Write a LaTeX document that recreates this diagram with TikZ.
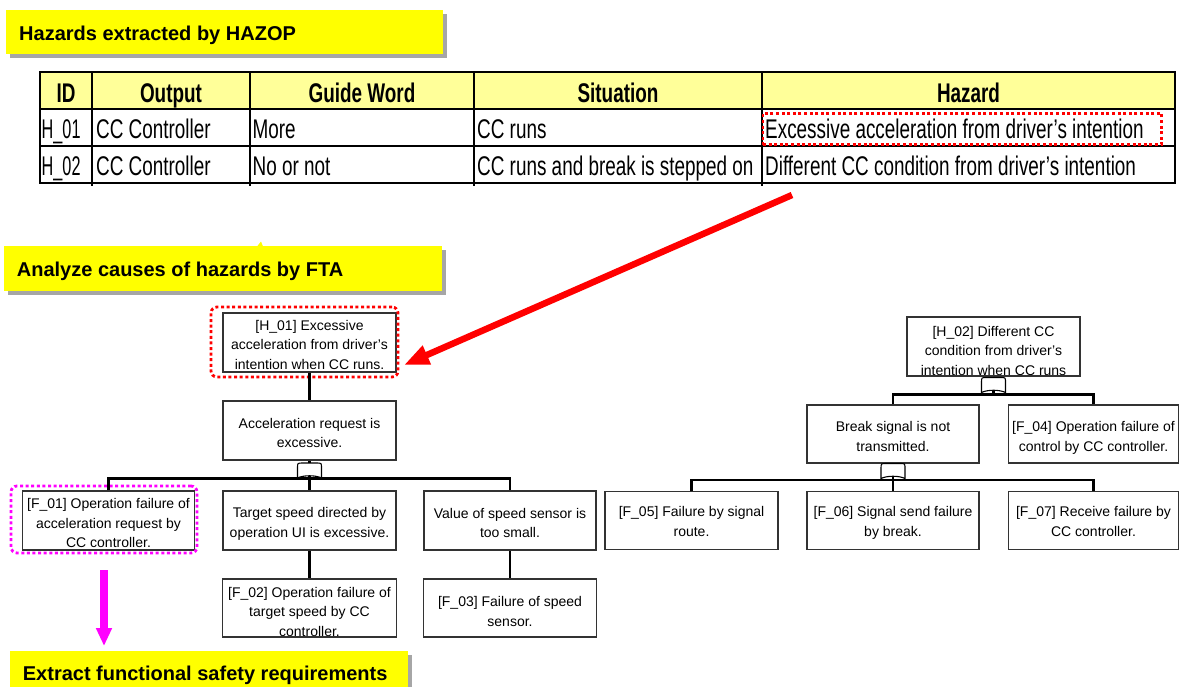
\documentclass[tikz,border=0pt]{standalone}
\usepackage{fontspec}
\setmainfont{Liberation Sans}
\newfontfamily\cellfont[FakeStretch=0.70]{Liberation Sans}
\usetikzlibrary{arrows.meta,shadows,calc}

\definecolor{banneryellow}{HTML}{FFFF00}
\definecolor{headyellow}{HTML}{FFFF99}
\definecolor{shadowgray}{HTML}{A6A6A6}
\definecolor{hlred}{HTML}{FF0000}
\definecolor{hlmagenta}{HTML}{FF00FF}
\definecolor{boxline}{HTML}{333333}

\tikzset{
  banner/.style={fill=banneryellow, anchor=north west, inner sep=0pt,
    drop shadow={shadow xshift=4pt, shadow yshift=-4pt, fill=shadowgray, opacity=1}},
  bannertext/.style={anchor=base west, inner sep=0pt, font=\fontsize{20}{24}\selectfont\bfseries},
  tableline/.style={line width=2.6pt},
  headtext/.style={anchor=base, inner sep=0pt, font=\cellfont\fontsize{27}{30}\selectfont\bfseries},
  celltext/.style={anchor=base west, inner sep=0pt, font=\cellfont\fontsize{27}{30}\selectfont},
  dotline/.style={line width=2.8pt, dash pattern=on 3pt off 2.6pt},
  fbox/.style={draw=boxline, line width=1.1pt, inner sep=0pt, minimum width=173pt, minimum height=59pt},
  ftext/.style={align=center, inner sep=0pt, font=\fontsize{14}{19.5}\selectfont,
    execute at begin node=\strut, execute at end node=\strut},
  conn/.style={line width=2.6pt, black},
  redarrow/.style={draw=hlred, line width=6.5pt, -{Triangle[length=25pt,width=19pt]}},
  magarrow/.style={draw=hlmagenta, line width=8pt, -{Triangle[length=18pt,width=15pt]}},
  fgate/.pic={
    \draw[line width=1.1pt, fill=white] (-12,15) -- (-12,5) .. controls (-12,0) .. (-7,0)
      -- (7,0) .. controls (12,0) .. (12,5) -- (12,15) .. controls (6,12) and (-6,12) .. cycle;
  }
}

\begin{document}
\begin{tikzpicture}[x=1pt,y=-1pt]
\useasboundingbox (0,0) rectangle (1180,686);

% ---------- section banners ----------
\node[banner, minimum width=437pt, minimum height=44pt] (b1) at (6,10) {};
\node[bannertext] (b1t) at (19,40) {Hazards extracted by HAZOP};

\node[banner, minimum width=437.7pt, minimum height=45pt] (b2) at (4,246) {};
\fill[banneryellow] (257,246.5) -- (261,241.5) -- (263,246.5) -- cycle;
\node[bannertext] (b2t) at (16.7,276.7) {Analyze causes of hazards by FTA};

\node[banner, minimum width=398pt, minimum height=44pt] (b3) at (10,651) {};
\node[bannertext] (b3t) at (22.7,680) {Extract functional safety requirements};

% ---------- HAZOP table ----------
\fill[headyellow] (40,72) rectangle (1175,109);
\draw[tableline] (40,72) rectangle (1175,183);
\draw[tableline] (40,109) -- (1175,109);
\draw[tableline] (40,146) -- (1175,146);
\foreach \cx in {92,250,474,762} \draw[tableline] (\cx,72) -- (\cx,186);

\node[headtext] (hid)  at (66,102)    {ID};
\node[headtext] (hout) at (171,102)   {Output};
\node[headtext] (hgw)  at (362,102)   {Guide Word};
\node[headtext] (hsit) at (618,102)   {Situation};
\node[headtext] (hhaz) at (968.5,102) {Hazard};

\node[celltext] (r1id)  at (41.5,138.3) {\scalebox{0.86}[1]{H\_01}};
\node[celltext] (r1out) at (96,138.3)   {CC Controller};
\node[celltext] (r1gw)  at (252.5,138.3){More};
\node[celltext] (r1sit) at (477,138.3)  {CC runs};
\node[celltext] (r1haz) at (765,138.3)  {Excessive acceleration from driver’s intention};

\node[celltext] (r2id)  at (41.5,175.3) {\scalebox{0.86}[1]{H\_02}};
\node[celltext] (r2out) at (96,175.3)   {CC Controller};
\node[celltext] (r2gw)  at (252.5,175.3){No or not};
\node[celltext] (r2sit) at (477,175.3)  {CC runs and break is stepped on};
\node[celltext] (r2haz) at (765,175.3)  {Different CC condition from driver’s intention};

\node[draw=hlred, dotline, inner sep=0pt, minimum width=398.5pt, minimum height=31pt] (hzsel) at (962.3,129) {};

% ---------- fault tree texts ----------
\node[ftext] (h01t) at (309.5,347.5) {[H\_01] Excessive\\acceleration from driver’s\\intention when CC runs.};
\node[ftext] (acct) at (309.5,436)   {Acceleration request is\\excessive.};
\node[ftext] (f01t) at (108.5,526)   {[F\_01] Operation failure of\\acceleration request by\\CC controller.};
\node[ftext] (tgtt) at (309.5,525.5) {Target speed directed by\\operation UI is excessive.};
\node[ftext] (valt) at (510,526)     {Value of speed sensor is\\too small.};
\node[ftext] (f02t) at (309.5,614.5) {[F\_02] Operation failure of\\target speed by CC\\controller.};
\node[ftext] (f03t) at (510,614.5)   {[F\_03] Failure of speed\\sensor.};

\node[ftext] (h02t) at (993.5,353.5) {[H\_02] Different CC\\condition from driver’s\\intention when CC runs};
\node[ftext] (brkt) at (893,439.5)   {Break signal is not\\transmitted.};
\node[ftext] (f04t) at (1093.5,439.5){[F\_04] Operation failure of\\control by CC controller.};
\node[ftext] (f05t) at (691.5,524.5) {[F\_05] Failure by signal\\route.};
\node[ftext] (f06t) at (893,524.5)   {[F\_06] Signal send failure\\by break.};
\node[ftext] (f07t) at (1093.5,524.5){[F\_07] Receive failure by\\CC controller.};

% ---------- fault tree boxes ----------
\node[fbox] (h01) at (309.5,342.5) {};
\node[fbox] (acc) at (309.5,430.5) {};
\node[fbox, minimum width=172pt] (f01) at (108.5,520.5) {};
\node[fbox] (tgt) at (309.5,520.5) {};
\node[fbox, minimum width=172pt] (val) at (510,520.5) {};
\node[fbox, minimum width=174pt, minimum height=58pt] (f02) at (309.5,608) {};
\node[fbox, minimum height=58pt] (f03) at (510,608) {};

\node[fbox] (h02) at (993.5,346.5) {};
\node[fbox, minimum width=172pt, minimum height=58pt] (brk) at (893,434) {};
\node[fbox, minimum width=170pt, minimum height=58pt] (f04) at (1093.5,434) {};
\node[fbox, minimum height=58pt] (f05) at (691.5,520.5) {};
\node[fbox, minimum width=172pt, minimum height=58pt] (f06) at (893,520.5) {};
\node[fbox, minimum width=170pt, minimum height=58pt] (f07) at (1093.5,520.5) {};

% ---------- highlight rings ----------
\node[draw=hlred, dotline, rounded corners=6pt, inner sep=0pt, minimum width=187pt, minimum height=70pt] (h01ring) at (304.5,342) {};
\node[draw=hlmagenta, dotline, rounded corners=6pt, inner sep=0pt, minimum width=186pt, minimum height=67pt] (f01ring) at (104,519.5) {};

% ---------- connectors ----------
\draw[conn] (h01.south) -- (acc.north);
\draw[conn] (acc.south) -- (tgt.north);
\draw[conn] (f01.north) -- ++(0,-12) -| (val.north);
\draw[conn] (tgt.south) -- (f02.north);
\draw[conn] (val.south) -- (f03.north);

\draw[conn] (h02.south) -- ++(0,19);
\draw[conn] (brk.north) -- ++(0,-10) -| (f04.north);
\draw[conn] (brk.south) -- (f06.north);
\draw[conn] (f05.north) -- ++(0,-11) -| (f07.north);

% ---------- gates ----------
\pic at (309.5,463) {fgate};
\pic at (993.5,377.5) {fgate};
\pic at (893,463.5) {fgate};

% ---------- flow arrows ----------
\coordinate (rtail) at (792,195);
\coordinate (rtip) at (404,365);
\draw[redarrow] (rtail) -- (rtip);

\draw[magarrow] ($(f01ring.south)+(0,16)$) -- ($(f01ring.south |- b3.north)+(0,-5)$);
\end{tikzpicture}
\end{document}
